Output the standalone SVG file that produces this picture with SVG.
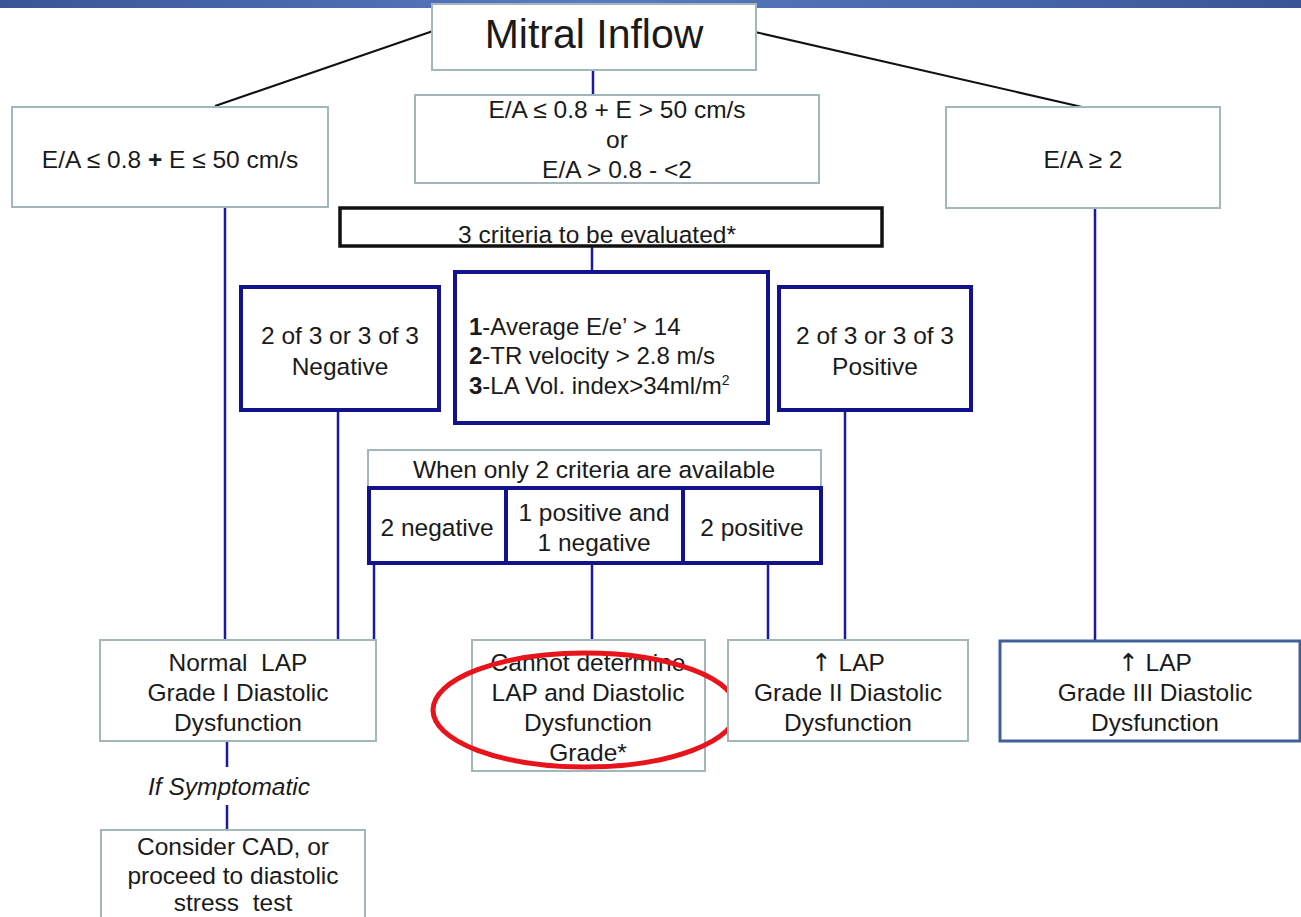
<svg xmlns="http://www.w3.org/2000/svg" width="1301" height="917" viewBox="0 0 1301 917">
<defs>
<linearGradient id="bar" x1="0" y1="0" x2="1" y2="0">
<stop offset="0" stop-color="#3a5595"/>
<stop offset="0.45" stop-color="#5a7bc2"/>
<stop offset="1" stop-color="#3a5595"/>
</linearGradient>
</defs>
<style>
.t{font-family:"Liberation Sans",Arial,sans-serif;font-size:24.5px;fill:#1a1a1a;text-anchor:middle;white-space:pre}
.tl{font-family:"Liberation Sans",Arial,sans-serif;font-size:24px;fill:#1a1a1a}
.ar{font-family:"DejaVu Sans",sans-serif;fill:#1a1a1a}
.g{fill:#fff;stroke:#a3b7ba;stroke-width:2}
.n{fill:#fff;stroke:#12128c;stroke-width:4}
.k{fill:#fff;stroke:#111;stroke-width:3.5}
.c{stroke:#1a1aa0;stroke-width:2.5;fill:none}
.d{stroke:#111;stroke-width:2;fill:none}
</style>
<rect x="0" y="0" width="1301" height="8" fill="url(#bar)"/>
<g id="connectors">
<line class="d" x1="433" y1="31" x2="215" y2="106"/>
<line class="d" x1="755" y1="32" x2="1082" y2="107"/>
<line class="c" x1="593" y1="70" x2="593" y2="95"/>
<line class="c" x1="225" y1="207" x2="225" y2="640"/>
<line class="c" x1="1095" y1="208" x2="1095" y2="640"/>
<line class="c" x1="592" y1="247" x2="592" y2="271"/>
<line class="c" x1="338" y1="411" x2="338" y2="640"/>
<line class="c" x1="845" y1="411" x2="845" y2="640"/>
<line class="c" x1="374" y1="564" x2="374" y2="640"/>
<line class="c" x1="592" y1="564" x2="592" y2="640"/>
<line class="c" x1="768" y1="564" x2="768" y2="640"/>
<line class="c" x1="227" y1="741" x2="227" y2="767"/>
<line class="c" x1="227" y1="805" x2="227" y2="830"/>
</g>
<g id="mitral">
<rect class="g" x="432" y="4" width="324" height="66"/>
<text class="t" x="594" y="48" style="font-size:41px">Mitral Inflow</text>
</g>
<g id="left">
<rect class="g" x="12" y="107" width="316" height="100"/>
<text class="t" x="170" y="168">E/A ≤ 0.8 <tspan font-weight="bold">+</tspan> E ≤ 50 cm/s</text>
</g>
<g id="middle">
<rect class="g" x="415" y="95" width="404" height="88"/>
<text class="t" x="617" y="118">E/A ≤ 0.8 + E &gt; 50 cm/s</text>
<text class="t" x="617" y="148">or</text>
<text class="t" x="617" y="178">E/A &gt; 0.8 - &lt;2</text>
</g>
<g id="right">
<rect class="g" x="946" y="107" width="274" height="101"/>
<text class="t" x="1083" y="168">E/A ≥ 2</text>
</g>
<g id="three">
<rect class="k" x="340" y="208" width="542" height="38"/>
<text class="t" x="597" y="243">3 criteria to be evaluated*</text>
</g>
<g id="criteria">
<rect class="n" x="455" y="272" width="313" height="151"/>
<text class="tl" x="469" y="335"><tspan font-weight="bold">1</tspan>-Average E/e’ &gt; 14</text>
<text class="tl" x="469" y="364"><tspan font-weight="bold">2</tspan>-TR velocity &gt; 2.8 m/s</text>
<text class="tl" x="469" y="394"><tspan font-weight="bold">3</tspan>-LA Vol. index&gt;34ml/m<tspan font-size="14" dy="-9">2</tspan></text>
</g>
<g id="negative">
<rect class="n" x="241" y="287" width="198" height="123"/>
<text class="t" x="340" y="344">2 of 3 or 3 of 3</text>
<text class="t" x="340" y="375">Negative</text>
</g>
<g id="positive">
<rect class="n" x="779" y="287" width="192" height="123"/>
<text class="t" x="875" y="344">2 of 3 or 3 of 3</text>
<text class="t" x="875" y="375">Positive</text>
</g>
<g id="when">
<rect class="g" x="368" y="450" width="453" height="38"/>
<text class="t" x="594" y="478">When only 2 criteria are available</text>
</g>
<g id="twoneg">
<rect class="n" x="369" y="488" width="137" height="75"/>
<text class="t" x="437" y="536">2 negative</text>
</g>
<g id="onepos">
<rect class="n" x="506" y="488" width="177" height="75"/>
<text class="t" x="594" y="521">1 positive and</text>
<text class="t" x="594" y="551">1 negative</text>
</g>
<g id="twopos">
<rect class="n" x="683" y="488" width="138" height="75"/>
<text class="t" x="752" y="536">2 positive</text>
</g>
<g id="normal">
<rect class="g" x="100" y="640" width="276" height="101"/>
<text class="t" x="238" y="671">Normal  LAP</text>
<text class="t" x="238" y="701">Grade I Diastolic</text>
<text class="t" x="238" y="731">Dysfunction</text>
</g>
<g id="cannot">
<rect class="g" x="472" y="640" width="233" height="131"/>
<text class="t" x="588" y="671">Cannot determine</text>
<text class="t" x="588" y="701">LAP and Diastolic</text>
<text class="t" x="588" y="731">Dysfunction</text>
<text class="t" x="588" y="761">Grade*</text>
</g>
<ellipse cx="585" cy="710" rx="152" ry="57" fill="none" stroke="#e8141c" stroke-width="5"/>
<g id="grade2">
<rect class="g" x="728" y="640" width="240" height="101"/>
<text class="t" x="848" y="671"><tspan class="ar">↑</tspan> LAP</text>
<text class="t" x="848" y="701">Grade II Diastolic</text>
<text class="t" x="848" y="731">Dysfunction</text>
</g>
<g id="grade3">
<rect x="1000" y="641" width="300" height="100" fill="#fff" stroke="#41609b" stroke-width="3"/>
<text class="t" x="1155" y="671"><tspan class="ar">↑</tspan> LAP</text>
<text class="t" x="1155" y="701">Grade III Diastolic</text>
<text class="t" x="1155" y="731">Dysfunction</text>
</g>
<g id="symptomatic">
<text class="t" x="229" y="795" font-style="italic">If Symptomatic</text>
</g>
<g id="consider">
<rect class="g" x="101" y="830" width="264" height="100"/>
<text class="t" x="233" y="855">Consider CAD, or</text>
<text class="t" x="233" y="884">proceed to diastolic</text>
<text class="t" x="233" y="911">stress  test</text>
</g>
</svg>
